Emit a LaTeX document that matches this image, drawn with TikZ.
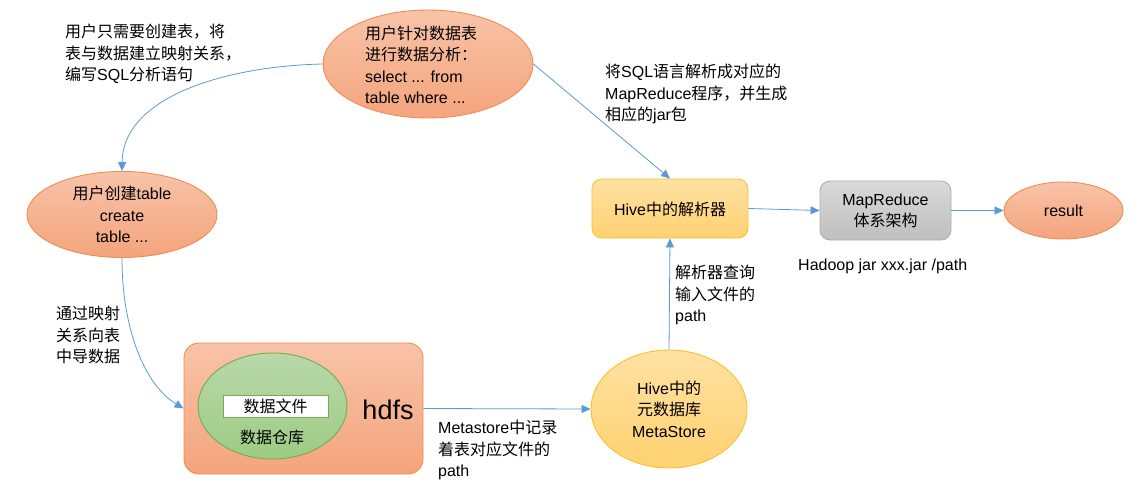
\documentclass[tikz,border=0pt]{standalone}
\usepackage{fontspec}
\setmainfont{Liberation Sans}
\newfontfamily\cjk{Noto Sans CJK SC}
\usetikzlibrary{shapes.geometric,arrows.meta}
\newcommand\zh[1]{{\cjk #1}}
\definecolor{salT}{HTML}{F8C3A8}
\definecolor{salB}{HTML}{F4A47C}
\definecolor{salL}{HTML}{F08C50}
\definecolor{yelT}{HTML}{FFE1A3}
\definecolor{yelB}{HTML}{FFD271}
\definecolor{yelL}{HTML}{FBC02D}
\definecolor{gryT}{HTML}{D9D9D9}
\definecolor{gryB}{HTML}{BFBFBF}
\definecolor{gryL}{HTML}{B0B0B0}
\definecolor{grnT}{HTML}{B8D8AA}
\definecolor{grnB}{HTML}{9DCB84}
\definecolor{grnL}{HTML}{72AE4C}
\definecolor{arrowblue}{HTML}{5B9BD5}
\tikzset{
  salmonshape/.style={draw=salL, top color=salT, bottom color=salB, line width=0.9pt},
  yellowshape/.style={draw=yelL, top color=yelT, bottom color=yelB, line width=0.9pt},
  grayshape/.style={draw=gryL, top color=gryT, bottom color=gryB, line width=0.9pt},
  greenshape/.style={draw=grnL, top color=grnT, bottom color=grnB, line width=0.9pt},
  ell/.style={ellipse, inner sep=0pt},
  conn/.style={draw=arrowblue, line width=0.8pt, -{Triangle[length=9pt,width=8pt]}},
  lbl/.style={align=left, anchor=west, inner sep=0pt},
  ctr/.style={align=center, inner sep=0pt},
}
\begin{document}
\begin{tikzpicture}[x=1pt,y=-1pt, font=\fontsize{16}{21.5}\selectfont]
\useasboundingbox[fill=white] (0,0) rectangle (1137,489);

% shapes
\node[ell, salmonshape, minimum width=210pt, minimum height=108pt] (query) at (428,64) {};
\node[ell, salmonshape, minimum width=190pt, minimum height=86pt] (create) at (122,214.5) {};
\node[salmonshape, rounded corners=15pt, minimum width=239pt, minimum height=131pt] (hdfs) at (303.5,408.5) {};
\node[ell, greenshape, minimum width=149pt, minimum height=106pt] (wh) at (272.5,406) {};
\node[draw=grnL, fill=white, line width=0.9pt, minimum width=105pt, minimum height=22pt, inner sep=0pt] (file) at (275.5,406) {\zh{数据文件}};
\node[ell, yellowshape, minimum width=156pt, minimum height=118pt] (meta) at (669,409) {};
\node[yellowshape, rounded corners=10pt, minimum width=156pt, minimum height=59pt] (parser) at (670,208.5) {};
\node[grayshape, rounded corners=10pt, minimum width=131pt, minimum height=59pt] (mr) at (885.5,210.5) {};
\node[ell, salmonshape, minimum width=119pt, minimum height=57pt] (result) at (1063.5,210.5) {};

% texts inside shapes
\node[lbl] (querytxt) at (365,65) {\zh{用户针对数据表}\\\zh{进行数据分析：}\\select ... from\\table where ...};
\node[ctr] (createtxt) at (122,214.5) {\zh{用户创建}table\\create\\table ...};
\node[ctr] (whtxt) at (272,437) {\zh{数据仓库}};
\node[ctr, font=\fontsize{27}{30}\selectfont] (hdfstxt) at (388,410) {hdfs};
\node[ctr] (metatxt) at (669,409) {Hive\zh{中的}\\\zh{元数据库}\\MetaStore};
\node[ctr] (parsertxt) at (670,209.5) {Hive\zh{中的解析器}};
\node[ctr] (mrtxt) at (885.5,211) {MapReduce\\\zh{体系架构}};
\node[ctr] (resulttxt) at (1063.5,210.5) {result};

% free labels
\node[lbl] (l1) at (65,54) {\zh{用户只需要创建表，将}\\\zh{表与数据建立映射关系，}\\\zh{编写}SQL\zh{分析语句}};
\node[lbl] (l2) at (605,94) {\zh{将}SQL\zh{语言解析成对应的}\\MapReduce\zh{程序，并生成}\\\zh{相应的}jar\zh{包}};
\node[lbl] (l3) at (675,295) {\zh{解析器查询}\\\zh{输入文件的}\\path};
\node[lbl] (l4) at (56,335) {\zh{通过映射}\\\zh{关系向表}\\\zh{中导数据}};
\node[lbl] (l5) at (438,450) {Metastore\zh{中记录}\\\zh{着表对应文件的}\\path};
\node[lbl] (l6) at (798,266) {Hadoop jar xxx.jar /path};

% connectors
\draw[conn] (query.west) .. controls (230,66) and (123,95) .. (create.north);
\draw[conn] (create.south) .. controls (122,330) and (145,385) .. (hdfs.west);
\draw[conn] (hdfs.east) -- (meta.west);
\draw[conn] (meta.north) -- (parser.south);
\draw[conn] (query.east) -- (parser.north);
\draw[conn] (parser.east) -- (mr.west);
\draw[conn] (mr.east) -- (result.west);
\end{tikzpicture}
\end{document}
